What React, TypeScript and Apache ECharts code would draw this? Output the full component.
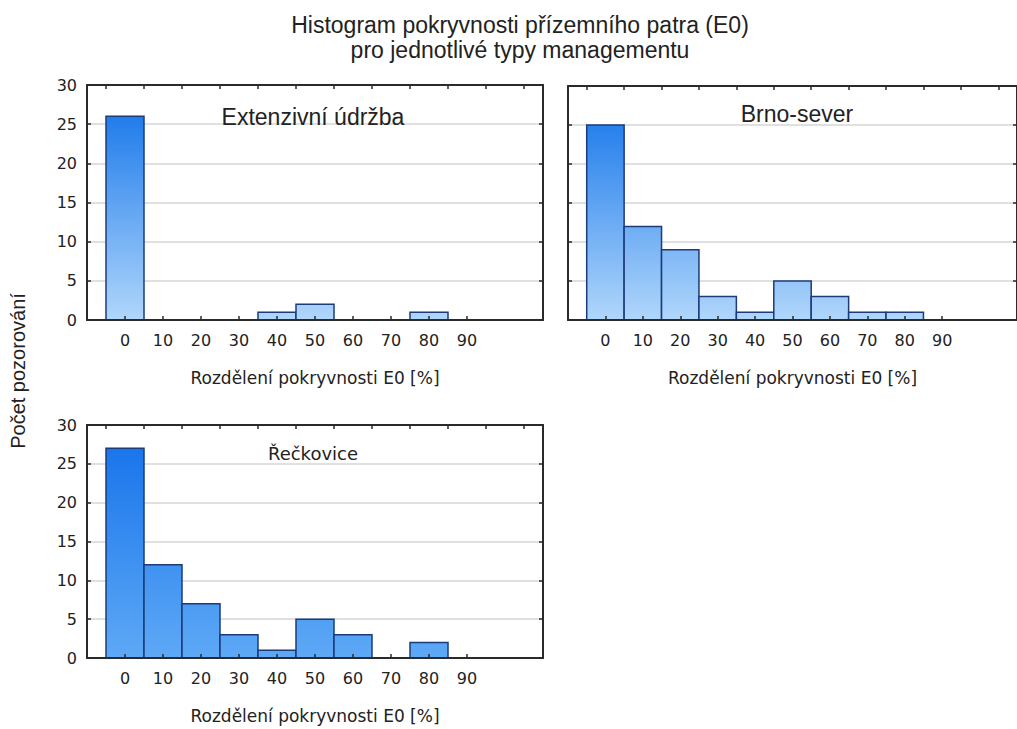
import React, { useEffect, useRef } from "react";
import * as echarts from "echarts";

const bins = [0, 10, 20, 30, 40, 50, 60, 70, 80, 90];
const extenzivni = [26, 0, 0, 0, 1, 2, 0, 0, 1, 0];
const brnoSever = [25, 12, 9, 3, 1, 5, 3, 1, 1, 0];
const reckovice = [27, 12, 7, 3, 1, 5, 3, 0, 2, 0];
const xTickLabels = [0, 10, 20, 30, 40, 50, 60, 70, 80, 90];
const binEdges = [-5, 5, 15, 25, 35, 45, 55, 65, 75, 85, 95, 105];

const panelNames = ["Extenzivní údržba", "Brno-sever", "Řečkovice"];
const panelValues = [extenzivni, brnoSever, reckovice];
const showYLabels = [true, false, true];

const TITLE = "Histogram pokryvnosti přízemního patra (E0)\npro jednotlivé typy managementu";
const X_NAME = "Rozdělení pokryvnosti E0 [%]";
const Y_NAME = "Počet pozorování";

const grids = [
  { left: 87, top: 85, width: 456, height: 235 },
  { left: 568, top: 86, width: 456, height: 234 },
  { left: 87, top: 425, width: 456, height: 233 },
];
const gradients = [
  ["#0b6fe9", "#b0d6fb"],
  ["#0b6fe9", "#b0d6fb"],
  ["#1270ea", "#5ea9f6"],
];
const labelPos = [
  { x: 313, y: 117, size: 23, font: "Liberation Sans" },
  { x: 797, y: 114, size: 23, font: "Liberation Sans" },
  { x: 313, y: 453, size: 18, font: "DejaVu Sans" },
];

const TXT = "#222";
const AX = "#2a2a2a";

export default function App() {
  const ref = useRef<HTMLDivElement>(null);
  useEffect(() => {
    if (!ref.current) return;
    const chart = echarts.init(ref.current, null, { renderer: "svg" });
    const xAxis: any[] = [];
    const yAxis: any[] = [];
    const series: any[] = [];
    grids.forEach((g, i) => {
      xAxis.push({
        gridIndex: i,
        type: "value",
        position: "bottom",
        min: -10,
        max: 110,
        interval: 10,
        z: 5,
        axisLine: { show: true, onZero: false, lineStyle: { color: AX, width: 2 } },
        axisTick: { show: true, inside: true, length: 4, customValues: xTickLabels, lineStyle: { color: AX, width: 1.5 } },
        axisLabel: { show: true, customValues: xTickLabels, margin: 12, fontFamily: "DejaVu Sans", fontSize: 16, color: TXT },
        splitLine: { show: false },
        name: X_NAME,
        nameLocation: "middle",
        nameGap: 49,
        nameTextStyle: { fontFamily: "DejaVu Sans", fontSize: 17, color: TXT },
      });
      xAxis.push({
        gridIndex: i,
        type: "value",
        position: "top",
        min: -10,
        max: 110,
        interval: 10,
        z: 5,
        axisLine: { show: true, onZero: false, lineStyle: { color: AX, width: 2 } },
        axisTick: { show: true, inside: true, length: 4, customValues: binEdges, lineStyle: { color: AX, width: 1.5 } },
        axisLabel: { show: false },
        splitLine: { show: false },
      });
      yAxis.push({
        gridIndex: i,
        type: "value",
        position: "left",
        min: 0,
        max: 30,
        interval: 5,
        z: 0,
        axisLine: { show: true, onZero: false, lineStyle: { color: AX, width: 2 } },
        axisTick: { show: true, inside: true, length: 4, lineStyle: { color: AX, width: 1.5 } },
        axisLabel: { show: showYLabels[i], margin: 10, fontFamily: "DejaVu Sans", fontSize: 16, color: TXT },
        splitLine: { show: true, lineStyle: { color: "#d6d6d6", width: 1.5 } },
      });
      yAxis.push({
        gridIndex: i,
        type: "value",
        position: "right",
        min: 0,
        max: 30,
        interval: 5,
        z: 5,
        axisLine: { show: true, onZero: false, lineStyle: { color: AX, width: 2 } },
        axisTick: { show: true, inside: true, length: 4, lineStyle: { color: AX, width: 1.5 } },
        axisLabel: { show: false },
        splitLine: { show: false },
      });
      const vals = panelValues[i];
      const grad = gradients[i];
      series.push({
        type: "custom",
        name: panelNames[i],
        xAxisIndex: 2 * i,
        yAxisIndex: 2 * i,
        z: 2,
        encode: { x: 0, y: 1 },
        data: bins.map((b, k) => [b, vals[k]]),
        renderItem: (params: any, api: any) => {
          const x = api.value(0);
          const v = api.value(1);
          if (!v) return null;
          const p0 = api.coord([x - 5, v]);
          const p1 = api.coord([x + 5, 0]);
          const yTop = api.coord([x, 30])[1];
          const yBot = api.coord([x, 0])[1];
          return {
            type: "rect",
            shape: { x: p0[0], y: p0[1], width: p1[0] - p0[0], height: p1[1] - p0[1] },
            style: {
              fill: new echarts.graphic.LinearGradient(0, yTop, 0, yBot, [
                { offset: 0, color: grad[0] },
                { offset: 1, color: grad[1] },
              ], true),
              stroke: "#1b3c78",
              lineWidth: 1.5,
            },
          };
        },
      });
    });

    const graphic: any[] = [
      {
        type: "text",
        x: 520,
        y: 37,
        style: {
          text: TITLE,
          align: "center",
          verticalAlign: "middle",
          fontFamily: "Liberation Sans",
          fontSize: 23,
          lineHeight: 25,
          fill: TXT,
        },
      },
      {
        type: "text",
        x: 18,
        y: 371,
        rotation: Math.PI / 2,
        style: {
          text: Y_NAME,
          align: "center",
          verticalAlign: "middle",
          fontFamily: "Liberation Sans",
          fontSize: 20,
          fill: TXT,
        },
      },
      ...labelPos.map((p, i) => ({
        type: "text",
        x: p.x,
        y: p.y,
        z: 10,
        style: {
          text: panelNames[i],
          align: "center",
          verticalAlign: "middle",
          fontFamily: p.font,
          fontSize: p.size,
          fill: TXT,
        },
      })),
    ];

    chart.setOption({
      animation: false,
      backgroundColor: "#ffffff",
      grid: grids.map((g) => ({ ...g, containLabel: false })),
      xAxis,
      yAxis,
      series,
      graphic,
    });
    return () => chart.dispose();
  }, []);
  return (
    <div
      ref={ref}
      style={{ position: "fixed", left: 0, top: 0, width: 1017, height: 729, background: "#fff" }}
    />
  );
}
